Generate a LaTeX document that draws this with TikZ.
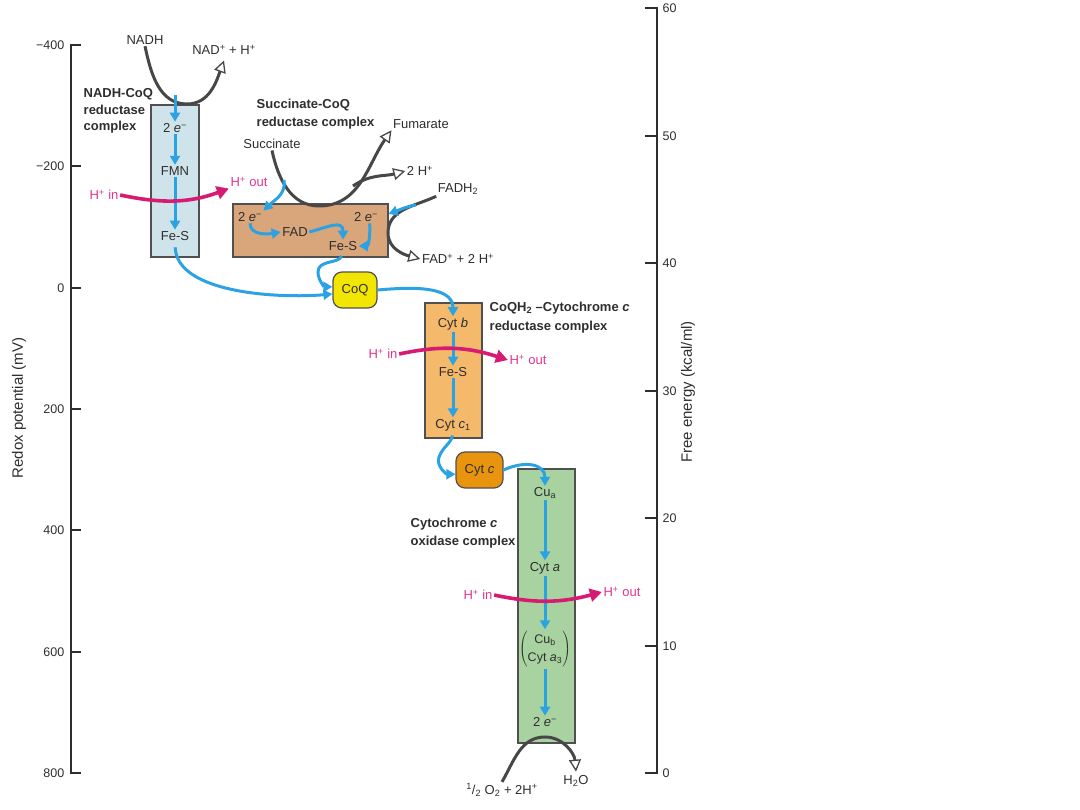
\documentclass[tikz,border=0pt]{standalone}
\usepackage{fontspec}
\setmainfont{Liberation Sans}
\usetikzlibrary{arrows.meta}
\definecolor{txt}{HTML}{2E2E2E}
\definecolor{bluec}{HTML}{2BA3E2}
\definecolor{pinkc}{HTML}{D81B72}
\definecolor{pinkt}{HTML}{E0358D}
\definecolor{grayc}{HTML}{474747}
\definecolor{edgec}{HTML}{505050}
\definecolor{boxa}{HTML}{CFE4EA}
\definecolor{boxb}{HTML}{D9A57A}
\definecolor{boxc}{HTML}{F5B96B}
\definecolor{boxd}{HTML}{A8D3A1}
\definecolor{coqc}{HTML}{F2E600}
\definecolor{cytcc}{HTML}{E8940F}
\begin{document}
\begin{tikzpicture}[x=1pt,y=-1pt,
  every node/.style={font=\fontsize{13}{16}\selectfont, text=txt, inner sep=1.5pt},
  ebox/.style={draw=edgec, line width=1.2pt, inner sep=0pt},
  blab/.style={font=\fontsize{13}{#1}\selectfont\bfseries, align=left, anchor=west},
  eflow/.style={draw=bluec, line width=3pt, -{Triangle[length=9pt,width=10pt]}},
  pflow/.style={draw=pinkc, line width=3.6pt, -{Triangle[length=12pt,width=13pt]}},
  gflow/.style={draw=grayc, line width=3pt, -{Triangle[fill=white,length=12pt,width=12pt,line width=1.3pt]}},
  ptext/.style={text=pinkt},
  axisl/.style={draw=txt, line width=1.8pt},
  anum/.style={font=\fontsize{12.5}{14}\selectfont},
  alab/.style={font=\fontsize{15}{18}\selectfont, rotate=90}
]
\useasboundingbox (0,0) rectangle (1080,810);

% ---- axes ----
\draw[axisl] (81,45) -- (71,45) -- (71,773) -- (81,773);
\foreach \y in {166,288,409,530,652} \draw[axisl] (71,\y) -- (81,\y);
\foreach \v/\y [count=\i] in {−400/45,−200/166,0/288,200/409,400/530,600/652,800/773}
  \node[anum, anchor=east] (ln\i) at (66,\y) {\v};
\draw[axisl] (645,8) -- (657,8) -- (657,773) -- (645,773);
\foreach \y in {136,263,391,518,646} \draw[axisl] (645,\y) -- (657,\y);
\foreach \v/\y [count=\i] in {60/8,50/136,40/263,30/391,20/518,10/646,0/773}
  \node[anum, anchor=west] (rn\i) at (661,\y) {\v};
\node[alab] (redox) at (19,408) {Redox potential (mV)};
\node[alab] (free) at (688,392) {Free energy (kcal/ml)};

% ---- complexes ----
\node[ebox, fill=boxa, minimum width=48pt, minimum height=152pt] (b1) at (175,181) {};
\node[ebox, fill=boxb, minimum width=155pt, minimum height=53pt] (b2) at (310.5,230.5) {};
\node[ebox, fill=boxc, minimum width=57pt, minimum height=135pt] (b3) at (453.5,370.5) {};
\node[ebox, fill=boxd, minimum width=57pt, minimum height=274pt] (b4) at (546.5,606) {};
\node[ebox, fill=coqc, rounded corners=9pt, minimum width=44pt, minimum height=36pt, inner sep=1.5pt] (coq) at (355,290) {CoQ};
\node[ebox, fill=cytcc, rounded corners=9pt, minimum width=47pt, minimum height=36pt, inner sep=1.5pt] (cytc) at (479.5,470) {Cyt \textit{c}};

% ---- texts inside ----
\node (b1e) at (175,128) {2 \textit{e}\textsuperscript{−}};
\node (fmn) at (175,171) {FMN};
\node (b1fes) at (175,236) {Fe-S};
\node (b2e1) at (250,217) {2 \textit{e}\textsuperscript{−}};
\node (fad) at (295,232) {FAD};
\node (b2e2) at (366,217) {2 \textit{e}\textsuperscript{−}};
\node (b2fes) at (343,246) {Fe-S};
\node (cytb) at (453,324) {Cyt \textit{b}};
\node (b3fes) at (453,372) {Fe-S};
\node (cytc1) at (453,425) {Cyt \textit{c}\textsubscript{1}};
\node (cua) at (545,493) {Cu\textsubscript{a}};
\node (cyta) at (545,568) {Cyt \textit{a}};
\node (cub) at (545,649) {\fontsize{12.5}{14.5}\selectfont$\left(\vcenter{\hbox{\renewcommand{\arraystretch}{1.2}\begin{tabular}{@{}c@{}}Cu\textsubscript{b}\\Cyt \textit{a}\textsubscript{3}\end{tabular}}}\right)$};
\node (b4e) at (545,722) {2 \textit{e}\textsuperscript{−}};

% ---- outer labels ----
\node (nadh) at (145,40) {NADH};
\node (nad) at (224,50) {NAD\textsuperscript{+} + H\textsuperscript{+}};
\node (succ) at (272,144) {Succinate};
\node (fum) at (421,124) {Fumarate};
\node (twoh) at (420,171) {2 H\textsuperscript{+}};
\node (fadh) at (458,189) {FADH\textsubscript{2}};
\node (fadp) at (458,259) {FAD\textsuperscript{+} + 2 H\textsuperscript{+}};
\node (o2) at (502,790) {\textsuperscript{1}/\textsubscript{2} O\textsubscript{2} + 2H\textsuperscript{+}};
\node (h2o) at (576,781) {H\textsubscript{2}O};

\node[ptext] (p1in) at (104,195) {H\textsuperscript{+} in};
\node[ptext] (p1out) at (249,182) {H\textsuperscript{+} out};
\node[ptext] (p3in) at (383,354) {H\textsuperscript{+} in};
\node[ptext] (p3out) at (528,360) {H\textsuperscript{+} out};
\node[ptext] (p4in) at (478,595) {H\textsuperscript{+} in};
\node[ptext] (p4out) at (622,592) {H\textsuperscript{+} out};

\node[blab=16.7] (l1) at (82,111) {NADH-CoQ\\reductase\\complex};
\node[blab=18] (l2) at (255,114) {Succinate-CoQ\\reductase complex};
\node[blab=19] (l3) at (488,317.5) {CoQH\textsubscript{2} –Cytochrome \textit{c}\\reductase complex};
\node[blab=18] (l4) at (409,533) {Cytochrome \textit{c}\\oxidase complex};

% ---- free-end coordinates ----
\coordinate (b1top) at (175,95);
\coordinate (nadlow) at (187,104);
\coordinate (succlow) at (319,206);
\coordinate (hb) at (353,186);
\coordinate (succb) at (284,180);
\coordinate (fadlow) at (388,233);
\coordinate (fadb) at (416,205);
\coordinate (k1) at (318,272);
\coordinate (k2) at (439,457);
\coordinate (o2top) at (545,737);

% ---- gray substrate curves ----
\draw[gflow] (nadh.south) to[out=-78,in=180] (nadlow) to[out=0,in=-110] ([yshift=-4pt]nad.south);
\draw[gflow] (succ.south) to[out=-78,in=180] (succlow) to[out=0,in=-125] (fum.south west);
\draw[gflow] (hb) to[out=35,in=195] (twoh.west);
\draw[gflow] (fadh.south west) to[out=205,in=90] (fadlow) to[out=-90,in=165] (fadp.west);
\draw[gflow] (o2.north) to[out=60,in=180] (o2top) to[out=0,in=95] ([yshift=2pt]h2o.north);

% ---- electron flow ----
\draw[eflow] (b1top) -- (b1e.north);
\draw[eflow] (b1e.south) -- (fmn.north);
\draw[eflow] (fmn.south) -- (b1fes.north);
\draw[eflow, shorten <=5pt] (b1fes.south) to[out=-88,in=185,looseness=0.8] (coq.190);
\draw[eflow] (succb) to[out=-80,in=45] (b2e1.25);
\draw[eflow] (b2e1.south) to[out=-90,in=190] (fad.west);
\draw[eflow] (fad.east) to[out=15,in=90,looseness=1.5] (b2fes.north);
\draw[eflow] (b2e2.-60) to[out=-85,in=0] (b2fes.east);
\draw[eflow] (fadb) to[out=190,in=20] (b2.12);
\draw[eflow, shorten <=4pt] (b2fes.south) to[out=-110,in=90] (k1) to[out=-90,in=180] (coq.172);
\draw[eflow] (coq.east) to[out=5,in=90] (cytb.north);
\draw[eflow] (cytb.south) -- (b3fes.north);
\draw[eflow] (b3fes.south) -- (cytc1.north);
\draw[eflow, shorten <=3pt] (cytc1.south) to[out=-100,in=70] (k2) to[out=-110,in=180] (cytc.190);
\draw[eflow] (cytc.east) to[out=25,in=90,looseness=1.3] (cua.north);
\draw[eflow] (cua.south) -- (cyta.north);
\draw[eflow] (cyta.south) -- (cub.north);
\draw[eflow] (cub.south) -- (b4e.north);

% ---- proton pumping ----
\draw[pflow] (p1in.east) to[out=-12,in=200] (p1out.south west);
\draw[pflow] (p3in.east) to[out=12,in=162] (p3out.west);
\draw[pflow] (p4in.east) to[out=-12,in=195] (p4out.west);
\end{tikzpicture}
\end{document}
